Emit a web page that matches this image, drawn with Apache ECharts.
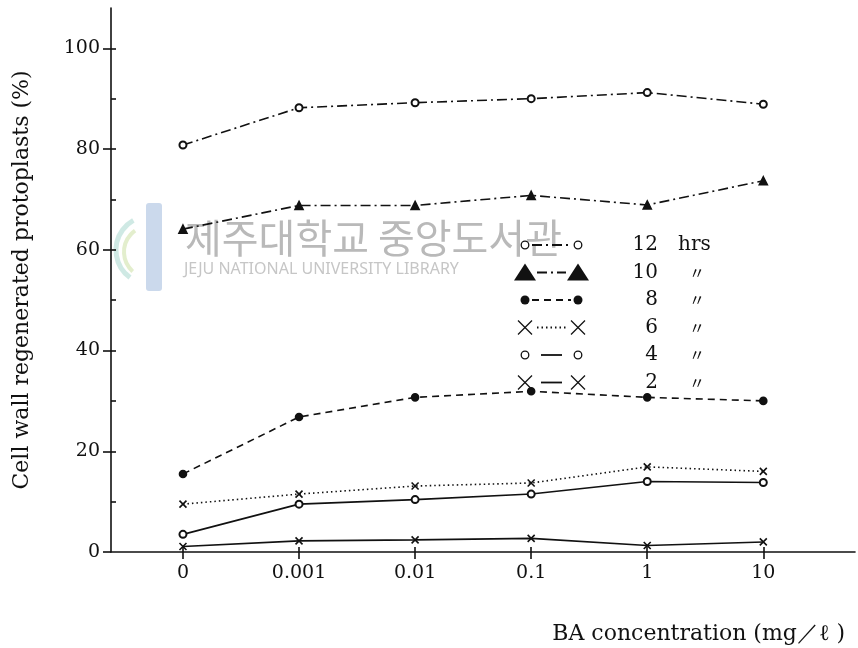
<!DOCTYPE html>
<html>
<head>
<meta charset="utf-8">
<script src="https://cdn.jsdelivr.net/npm/echarts@6/dist/echarts.min.js"></script>
<style>
  html, body { margin: 0; padding: 0; background: #ffffff; }
  #chart { width: 858px; height: 648px; }
</style>
</head>
<body>
<div id="chart"></div>
<script>
// BA concentrations on the x axis (mg/l)
const categories = ["0", "0.001", "0.01", "0.1", "1", "10"];

// regenerated protoplasts (%) per culture time
const hrs12 = [80.8, 88.2, 89.2, 90.0, 91.2, 88.9];
const hrs10 = [64.1, 68.8, 68.8, 70.8, 68.9, 73.7];
const hrs8 = [15.5, 26.8, 30.7, 31.9, 30.7, 30.0];
const hrs6 = [9.5, 11.5, 13.1, 13.7, 16.9, 16.0];
const hrs4 = [3.5, 9.5, 10.4, 11.5, 14.0, 13.8];
const hrs2 = [1.1, 2.2, 2.4, 2.7, 1.3, 2.0];

const legendHours = ["12", "10", "8", "6", "4", "2"];
const legendUnits = ["hrs", "〃", "〃", "〃", "〃", "〃"];

const yMajor = [0, 20, 40, 60, 80, 100];
const yAll = [10, 20, 30, 40, 50, 60, 70, 80, 90, 100];
const xIdx = categories.map((c, i) => i);

const ink = "#111111";
const serif = "DejaVu Serif";
const crossPath = "path://M0,0L10,10M10,0L0,10";

// line look for each series: symbol kind, dash pattern
const looks = [
  { name: "12 hrs", data: hrs12, kind: "ring", dash: [10, 4, 2, 4] },
  { name: "10 hrs", data: hrs10, kind: "tri", dash: [10, 4, 2, 4] },
  { name: "8 hrs", data: hrs8, kind: "dot", dash: [7, 5] },
  { name: "6 hrs", data: hrs6, kind: "cross", dash: [1.5, 3] },
  { name: "4 hrs", data: hrs4, kind: "ring", dash: "solid" },
  { name: "2 hrs", data: hrs2, kind: "cross", dash: "solid" },
];

function seriesSymbol(kind) {
  if (kind === "ring") return { symbol: "emptyCircle", symbolSize: 7 };
  if (kind === "tri") return { symbol: "triangle", symbolSize: 8 };
  if (kind === "dot") return { symbol: "circle", symbolSize: 7 };
  return { symbol: crossPath, symbolSize: 7 };
}

const series = looks.map((l) => {
  const s = seriesSymbol(l.kind);
  return {
    name: l.name,
    type: "line",
    data: l.data.map((v, i) => [i, v]),
    symbol: s.symbol,
    symbolSize: s.symbolSize,
    itemStyle: { color: ink, borderColor: ink, borderWidth: 1.6 },
    lineStyle: { color: ink, width: 1.6, type: l.dash },
    animation: false,
  };
});

// hand drawn legend, symbol - line - symbol, like the printed figure
function legendMark(kind, cx, cy) {
  if (kind === "ring") {
    return [{ type: "circle", shape: { cx, cy, r: 3.8 }, style: { fill: "#fff", stroke: ink, lineWidth: 1.3 } }];
  }
  if (kind === "tri") {
    return [{ type: "polygon", shape: { points: [[cx, cy - 9], [cx - 11, cy + 8], [cx + 11, cy + 8]] }, style: { fill: ink } }];
  }
  if (kind === "dot") {
    return [{ type: "circle", shape: { cx, cy, r: 4.5 }, style: { fill: ink } }];
  }
  return [
    { type: "line", shape: { x1: cx - 7, y1: cy - 7, x2: cx + 7, y2: cy + 7 }, style: { stroke: ink, lineWidth: 1.3 } },
    { type: "line", shape: { x1: cx + 7, y1: cy - 7, x2: cx - 7, y2: cy + 7 }, style: { stroke: ink, lineWidth: 1.3 } },
  ];
}

const legendGraphics = [];
looks.forEach((l, i) => {
  const y = 245 + i * 27.5;
  const big = l.kind === "tri" || l.kind === "cross";
  const solid = l.dash === "solid";
  legendGraphics.push({
    type: "line",
    shape: { x1: solid ? 541 : (big ? 537 : 532), y1: y, x2: solid ? 562 : (big ? 566 : 571), y2: y },
    style: { stroke: ink, lineWidth: 1.8, lineDash: solid ? null : l.dash },
  });
  legendGraphics.push(...legendMark(l.kind, 525, y), ...legendMark(l.kind, 578, y));
  legendGraphics.push({
    type: "text", x: 658, y: y,
    style: { text: legendHours[i], font: "20px '" + serif + "'", fill: ink, textAlign: "right", textVerticalAlign: "middle" },
  });
  const isHrs = legendUnits[i] === "hrs";
  legendGraphics.push({
    type: "text", x: isHrs ? 678 : 697, y: y,
    style: {
      text: legendUnits[i],
      font: isHrs ? "20px '" + serif + "'" : "16px 'Noto Sans CJK JP'",
      fill: ink, textAlign: isHrs ? "left" : "center", textVerticalAlign: "middle",
    },
  });
});

// faint library stamp behind the plot
const stamp = [
  { type: "rect", shape: { x: 146, y: 203, width: 16, height: 88, r: 3 }, style: { fill: "#a9bfdf", opacity: 0.6 }, z: -10 },
  { type: "arc", shape: { cx: 150, cy: 250, r: 34, startAngle: 2.2, endAngle: 4.2 }, style: { stroke: "#9fd4c9", lineWidth: 5, fill: null, opacity: 0.5 }, z: -10 },
  { type: "arc", shape: { cx: 150, cy: 252, r: 26, startAngle: 2.3, endAngle: 4.1 }, style: { stroke: "#c7dd9c", lineWidth: 4, fill: null, opacity: 0.5 }, z: -10 },
  {
    type: "text", x: 185, y: 238, z: -10,
    style: { text: "제주대학교 중앙도서관", font: "40px 'Noto Sans CJK KR'", fill: "#b9b9b9", textVerticalAlign: "middle" },
  },
  {
    type: "text", x: 184, y: 269, z: -10,
    style: { text: "JEJU NATIONAL UNIVERSITY LIBRARY", font: "16px 'Noto Sans'", fill: "#c6c6c6", textVerticalAlign: "middle" },
  },
];

const chart = echarts.init(document.getElementById("chart"));

const option = {
  backgroundColor: "#ffffff",
  animation: false,
  title: {
    text: "BA concentration (mg／ℓ )",
    right: 8,
    top: 618,
    textStyle: { fontFamily: serif, fontSize: 22, fontWeight: "normal", color: ink },
  },
  grid: { left: 111, right: 3, top: 8, bottom: 96 },
  xAxis: [
    {
      type: "value",
      min: -0.62,
      max: 5.79,
      position: "bottom",
      splitLine: { show: false },
      axisLine: { show: true, onZero: false, lineStyle: { color: ink, width: 1.6 } },
      axisTick: { show: true, customValues: xIdx, length: 7, lineStyle: { color: ink, width: 1.6 } },
      axisLabel: {
        customValues: xIdx,
        formatter: (v) => categories[Math.round(v)],
        margin: 12,
        fontFamily: serif,
        fontSize: 19,
        color: ink,
      },
    },
    {
      type: "value",
      min: -0.62,
      max: 5.79,
      position: "bottom",
      splitLine: { show: false },
      axisLine: { show: false, onZero: false },
      axisTick: { show: true, inside: true, customValues: xIdx, length: 5, lineStyle: { color: ink, width: 1.6 } },
      axisLabel: { show: false },
    },
  ],
  yAxis: [
    {
      type: "value",
      min: 0,
      max: 108,
      position: "left",
      name: "Cell wall regenerated protoplasts (%)",
      nameLocation: "middle",
      nameGap: 78,
      nameTextStyle: { fontFamily: serif, fontSize: 22, color: ink },
      splitLine: { show: false },
      axisLine: { show: true, onZero: false, lineStyle: { color: ink, width: 1.6 } },
      axisTick: { show: true, customValues: yMajor, length: 8, lineStyle: { color: ink, width: 1.6 } },
      axisLabel: { customValues: yMajor, margin: 11, fontFamily: serif, fontSize: 19, color: ink },
    },
    {
      type: "value",
      min: 0,
      max: 108,
      position: "left",
      splitLine: { show: false },
      axisLine: { show: false, onZero: false },
      axisTick: { show: true, inside: true, customValues: yAll, length: 5, lineStyle: { color: ink, width: 1.6 } },
      axisLabel: { show: false },
    },
  ],
  graphic: stamp.concat(legendGraphics),
  series: series,
};

chart.setOption(option);
window.addEventListener("resize", () => chart.resize());
</script>
</body>
</html>
